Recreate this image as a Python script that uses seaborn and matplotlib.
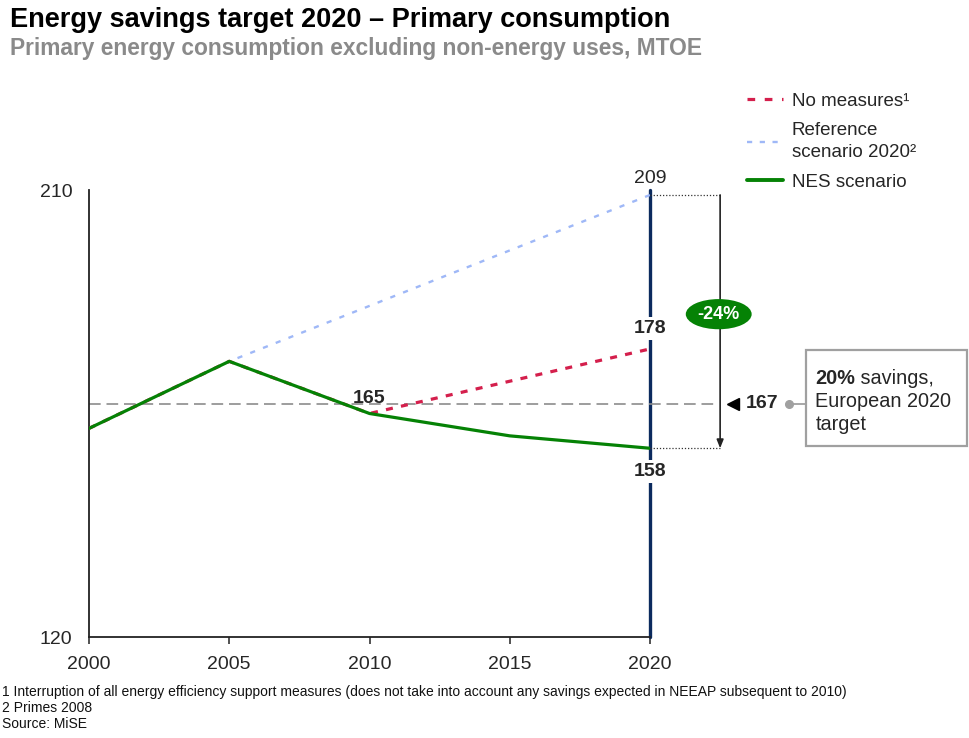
import matplotlib
matplotlib.use("Agg")
import matplotlib.pyplot as plt
from matplotlib.lines import Line2D
from matplotlib.patches import Rectangle
import pandas as pd
import seaborn as sns

# --- data (MTOE) ---
years = [2000, 2005, 2010, 2015, 2020]
nes_scenario = [162, 175.5, 165, 160.5, 158]
no_measures_years = [2000, 2005, 2010, 2020]
no_measures = [162, 175.5, 165, 178]
reference_years = [2000, 2005, 2020]
reference_2020 = [162, 175.5, 209]
eu_target = 167
savings_label = "-24%"
x_ticks = [2000, 2005, 2010, 2015, 2020]
y_ticks = [120, 210]

sns.set_style("white")
plt.rcParams["font.family"] = ["Liberation Sans", "DejaVu Sans"]

GREEN = "#058205"
RED = "#d41f4c"
BLUE = "#9fb8f7"
NAVY = "#0b2a5e"
GREY = "#8a8a8a"

fig = plt.figure(figsize=(9.7, 7.38), dpi=100)
W, H = 970, 738
ax = fig.add_axes([89 / W, 1 - 637 / H, (650 - 89) / W, (637 - 190) / H])

nes_df = pd.DataFrame({"year": years, "value": nes_scenario})
nm_df = pd.DataFrame({"year": no_measures_years, "value": no_measures})
ref_df = pd.DataFrame({"year": reference_years, "value": reference_2020})

# vertical marker for 2020
ax.axvline(2020, color=NAVY, lw=2.4, zorder=1, clip_on=False)

# EU target line
ax.plot([2000, 2022.4], [eu_target, eu_target], color="#8c8c8c", lw=1.2,
        linestyle=(0, (7, 3.5)), clip_on=False, zorder=2)

sns.lineplot(data=ref_df, x="year", y="value", ax=ax, color=BLUE, lw=1.7,
             linestyle=(0, (2.2, 3.6)), zorder=3)
sns.lineplot(data=nm_df, x="year", y="value", ax=ax, color=RED, lw=2.3,
             linestyle=(0, (2.2, 2.6)), zorder=4)
sns.lineplot(data=nes_df, x="year", y="value", ax=ax, color=GREEN, lw=2.3,
             zorder=5)

ax.set_xlim(2000, 2020)
ax.set_ylim(120, 210)
ax.set_xticks(x_ticks)
ax.set_xticklabels([str(t) for t in x_ticks])
ax.set_yticks(y_ticks)
ax.set_yticklabels([str(t) for t in y_ticks])
ax.set_xlabel("")
ax.set_ylabel("")
for s in ["top", "right"]:
    ax.spines[s].set_visible(False)
for s in ["left", "bottom"]:
    ax.spines[s].set_color("#222222")
    ax.spines[s].set_linewidth(1.3)
ax.tick_params(axis="x", direction="out", length=5, width=1.1, color="#222222",
               labelsize=14, pad=9, bottom=True)
ax.tick_params(axis="y", length=0, labelsize=14, pad=12)

# value labels
white_box = dict(boxstyle="square,pad=0.15", fc="white", ec="none")
ax.annotate(f"{reference_2020[-1]}", xy=(2020, reference_2020[-1]),
            xytext=(0, 12), textcoords="offset points", ha="center",
            va="center", fontsize=14, zorder=10, annotation_clip=False)
ax.annotate(f"{no_measures[-1]}", xy=(2020, no_measures[-1]),
            xytext=(0, 15), textcoords="offset points", ha="center",
            va="center", fontsize=14, fontweight="bold", bbox=white_box,
            zorder=10)
ax.annotate(f"{nes_scenario[-1]}", xy=(2020, nes_scenario[-1]),
            xytext=(0, -17), textcoords="offset points", ha="center",
            va="center", fontsize=14, fontweight="bold", bbox=white_box,
            zorder=10)
ax.annotate(f"{nes_scenario[2]}", xy=(2010, nes_scenario[2]),
            xytext=(0, 11), textcoords="offset points", ha="center",
            va="center", fontsize=14, fontweight="bold", zorder=10)

# savings bracket between reference and NES in 2020
x_arrow = 2022.5
for v in (reference_2020[-1], nes_scenario[-1]):
    ax.plot([2020, x_arrow], [v, v], color="#333333", lw=0.9,
            linestyle=(0, (1, 1.5)), clip_on=False, zorder=6)
ax.annotate("", xy=(x_arrow, nes_scenario[-1]),
            xytext=(x_arrow, reference_2020[-1]),
            arrowprops=dict(arrowstyle="-|>,head_length=0.5,head_width=0.2",
                            color="#222222", lw=1.2, shrinkA=0, shrinkB=0),
            annotation_clip=False, zorder=6)
ax.text(x_arrow - 0.05, 185, savings_label, ha="center", va="center",
        fontsize=13, fontweight="bold", color="white", zorder=9,
        bbox=dict(boxstyle="ellipse,pad=0.12", fc=GREEN, ec="none"))

# target marker and callout box
ax.plot([2022.95], [eu_target], marker="<", color="black", markersize=9,
        clip_on=False, zorder=7, linestyle="none")
ax.text(2023.4, eu_target, f"{eu_target}", ha="left", va="center",
        fontsize=14, fontweight="bold", zorder=7, clip_on=False)
ax.plot([2024.95, 2025.56], [eu_target, eu_target], color="#a0a0a0", lw=1.3,
        clip_on=False, zorder=7)
ax.plot([2024.95], [eu_target], marker="o", color="#a0a0a0", markersize=5.5,
        clip_on=False, zorder=7, linestyle="none")
ax.add_patch(Rectangle((2025.56, 158.5), 2031.3 - 2025.56, 177.8 - 158.5,
                       fill=False, ec="#a0a0a0", lw=1.6, clip_on=False,
                       zorder=7))
box_fs = 14.3
t1 = ax.text(2025.9, 170.9, "20%", ha="left", va="baseline", fontsize=box_fs,
             fontweight="bold", clip_on=False, zorder=8)
ax.annotate(" savings,", xy=(1, 0), xycoords=t1, ha="left", va="bottom",
            fontsize=box_fs, zorder=8, annotation_clip=False)
ax.text(2025.9, 166.3, "European 2020", ha="left", va="baseline",
        fontsize=box_fs, clip_on=False, zorder=8)
ax.text(2025.9, 161.7, "target", ha="left", va="baseline",
        fontsize=box_fs, clip_on=False, zorder=8)

# legend
handles = [
    Line2D([], [], color=RED, lw=2.3, linestyle=(0, (2.4, 3.0))),
    Line2D([], [], color=BLUE, lw=1.7, linestyle=(0, (2.2, 3.2))),
    Line2D([], [], color=GREEN, lw=2.8),
]
labels = ["No measures\u00b9", "Reference\nscenario 2020\u00b2", "NES scenario"]
leg = fig.legend(handles, labels, loc="upper left",
                 bbox_to_anchor=(740 / W, 1 - 85 / H), frameon=False,
                 fontsize=13.5, handlelength=1.9, handletextpad=0.45,
                 labelspacing=0.68, borderaxespad=0)
for t in leg.get_texts():
    t.set_linespacing(1.37)

# titles
fig.text(10 / W, 1 - 20 / H, "Energy savings target 2020 \u2013 Primary consumption",
         ha="left", va="center", fontsize=19.5, fontweight="bold", color="black")
fig.text(10 / W, 1 - 49 / H,
         "Primary energy consumption excluding non-energy uses, MTOE",
         ha="left", va="center", fontsize=16.4, fontweight="bold", color=GREY)

# footnotes
notes = [
    "1 Interruption of all energy efficiency support measures (does not take "
    "into account any savings expected in NEEAP subsequent to 2010)",
    "2 Primes 2008",
    "Source: MiSE",
]
for i, note in enumerate(notes):
    fig.text(2 / W, 1 - (692 + 16 * i) / H, note, ha="left", va="center",
             fontsize=10.0, color="#111111")

fig.savefig("out.png", dpi=100)
